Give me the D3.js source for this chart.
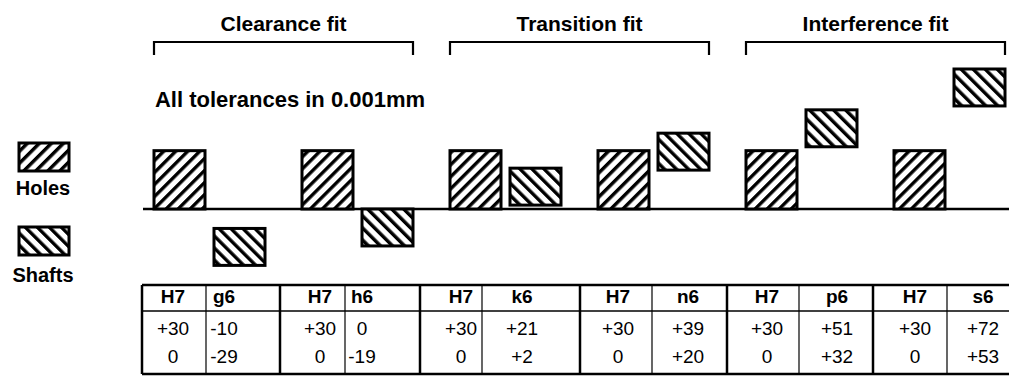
<!DOCTYPE html>
<html>
<head>
<meta charset="utf-8">
<script src="https://cdn.jsdelivr.net/npm/d3@7"></script>
<style>
  html, body { margin: 0; padding: 0; background: #fff; }
  svg { display: block; font-family: "Liberation Sans", Arial, Helvetica, sans-serif; }
</style>
</head>
<body>
<svg id="chart" width="1009" height="377"></svg>
<script>
// ---- data ----
const fitNames = ["Clearance fit", "Transition fit", "Interference fit"];
const holeLabels = ["H7", "H7", "H7", "H7", "H7", "H7"];
const shaftLabels = ["g6", "h6", "k6", "n6", "p6", "s6"];
const holeUpper = [30, 30, 30, 30, 30, 30];
const holeLower = [0, 0, 0, 0, 0, 0];
const shaftUpper = [-10, 0, 21, 39, 51, 72];
const shaftLower = [-29, -19, 2, 20, 32, 53];
const legendLabels = ["Holes", "Shafts"];
const noteText = "All tolerances in 0.001mm";

// ---- layout ----
const W = 1009, H = 377;
const svg = d3.select("#chart");
const defs = svg.append("defs");

function hatch(id, angle) {
  const p = defs.append("pattern")
    .attr("id", id)
    .attr("patternUnits", "userSpaceOnUse")
    .attr("width", 8.5).attr("height", 8.5)
    .attr("patternTransform", `rotate(${angle})`);
  p.append("rect").attr("width", 8.5).attr("height", 8.5).attr("fill", "#fff");
  p.append("rect").attr("x", 0).attr("y", 0).attr("width", 3.4).attr("height", 8.5).attr("fill", "#000");
}
hatch("hole-hatch", 45);
hatch("shaft-hatch", -45);

const groups = d3.range(holeLabels.length);
const x = d3.scaleBand().domain(groups).range([154, 154 + 148 * groups.length]).padding(0);
const inner = d3.scaleBand().domain(["hole", "shaft"]).range([0, 111]).paddingInner(0.15).paddingOuter(0);
const y = d3.scaleLinear().domain([0, 72]).range([209, 69]);

// zero line
svg.append("line")
  .attr("x1", 143).attr("x2", W)
  .attr("y1", y(0)).attr("y2", y(0))
  .attr("stroke", "#000").attr("stroke-width", 2.5);

// bars
const bw = inner.bandwidth();
svg.append("g").selectAll("rect").data(groups).join("rect")
  .attr("x", i => x(i) + inner("hole"))
  .attr("y", i => y(holeUpper[i]))
  .attr("width", bw)
  .attr("height", i => y(holeLower[i]) - y(holeUpper[i]))
  .attr("fill", "url(#hole-hatch)")
  .attr("stroke", "#000").attr("stroke-width", 3);

svg.append("g").selectAll("rect").data(groups).join("rect")
  .attr("x", i => x(i) + inner("shaft"))
  .attr("y", i => y(shaftUpper[i]))
  .attr("width", bw)
  .attr("height", i => y(shaftLower[i]) - y(shaftUpper[i]))
  .attr("fill", "url(#shaft-hatch)")
  .attr("stroke", "#000").attr("stroke-width", 3);

// brackets + titles
const bracketY = 42, tickLen = 13;
fitNames.forEach((name, k) => {
  const x1 = x(2 * k) + inner("hole");
  const x2 = x(2 * k + 1) + inner("shaft") + bw;
  svg.append("path")
    .attr("d", `M${x1},${bracketY + tickLen}V${bracketY}H${x2}V${bracketY + tickLen}`)
    .attr("fill", "none").attr("stroke", "#000").attr("stroke-width", 2.2);
  svg.append("text")
    .attr("x", (x1 + x2) / 2).attr("y", 31)
    .attr("text-anchor", "middle")
    .attr("font-size", 21).attr("font-weight", "bold")
    .text(name);
});

// note
svg.append("text")
  .attr("x", 155).attr("y", 107)
  .attr("font-size", 22).attr("font-weight", "bold")
  .attr("textLength", 270)
  .text(noteText);

// legend
const legend = [
  { label: legendLabels[0], fill: "url(#hole-hatch)", y0: 143, ty: 195 },
  { label: legendLabels[1], fill: "url(#shaft-hatch)", y0: 227, ty: 282 }
];
legend.forEach(l => {
  svg.append("rect").attr("x", 19).attr("y", l.y0).attr("width", 50).attr("height", 28)
    .attr("fill", l.fill).attr("stroke", "#000").attr("stroke-width", 3);
  svg.append("text").attr("x", 43).attr("y", l.ty).attr("text-anchor", "middle")
    .attr("font-size", 20).attr("font-weight", "bold").text(l.label);
});

// table
const fmt = v => v > 0 ? "+" + v : String(v);
const colEdges = [142, 206, 280, 345, 420, 482, 580, 652, 727, 799, 873, 947, W];
const textCenters = [173, 224, 320, 362, 461, 522, 618, 688, 767, 837, 915, 983];
const tTop = 285, tHead = 311, tBot = 374;
const rowY = [303, 335, 363];

const cols = [];
groups.forEach(i => {
  cols.push([holeLabels[i], fmt(holeUpper[i]), fmt(holeLower[i])]);
  cols.push([shaftLabels[i], fmt(shaftUpper[i]), fmt(shaftLower[i])]);
});

const tg = svg.append("g");
tg.append("line").attr("x1", colEdges[0]).attr("x2", W).attr("y1", tTop).attr("y2", tTop)
  .attr("stroke", "#000").attr("stroke-width", 2.5);
tg.append("line").attr("x1", colEdges[0]).attr("x2", W).attr("y1", tHead).attr("y2", tHead)
  .attr("stroke", "#000").attr("stroke-width", 1.5);
tg.append("line").attr("x1", colEdges[0]).attr("x2", W).attr("y1", tBot).attr("y2", tBot)
  .attr("stroke", "#000").attr("stroke-width", 2.5);
colEdges.slice(0, -1).forEach((cx, j) => {
  tg.append("line").attr("x1", cx).attr("x2", cx).attr("y1", tTop).attr("y2", tBot)
    .attr("stroke", "#000").attr("stroke-width", j % 2 === 0 ? 2.5 : 1.2);
});
cols.forEach((c, j) => {
  c.forEach((t, r) => {
    tg.append("text").attr("x", textCenters[j]).attr("y", rowY[r])
      .attr("text-anchor", "middle")
      .attr("font-size", 19)
      .attr("font-weight", r === 0 ? "bold" : "normal")
      .text(t);
  });
});
</script>
</body>
</html>
